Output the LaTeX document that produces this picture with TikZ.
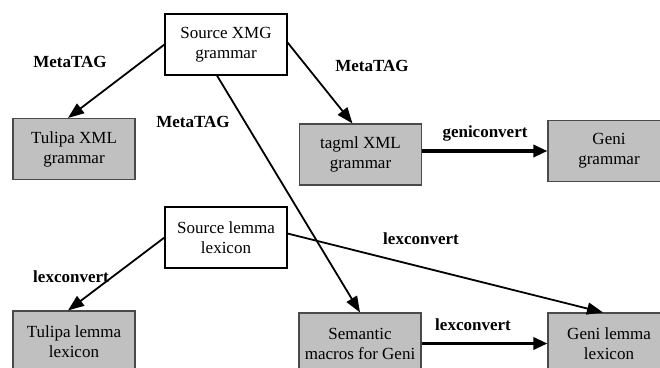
\documentclass[tikz,border=0pt]{standalone}
\usepackage{fontspec}
\setmainfont{Liberation Serif}
\usetikzlibrary{arrows.meta,calc}
\definecolor{boxgray}{HTML}{C0C0C0}
\definecolor{edgegray}{HTML}{4A4A4A}
\begin{document}
\begin{tikzpicture}[x=1pt,y=-1pt,
  txt/.style={font=\rmfamily\fontsize{17}{20}\selectfont},
  srcbox/.style={draw=black,line width=1.1pt,fill=white,minimum width=122pt,minimum height=61pt,inner sep=0pt,align=center,txt},
  outbox/.style={draw=edgegray,line width=1.1pt,fill=boxgray,minimum width=122pt,minimum height=61pt,inner sep=0pt,align=center,txt},
  lbl/.style={font=\rmfamily\fontsize{17}{20}\selectfont\bfseries,inner sep=0pt},
  edge/.style={line width=1.8pt,-{Triangle[length=16pt,width=12pt]}},
  thickedge/.style={line width=3.2pt,-{Triangle[length=14pt,width=12pt]}}
]
\useasboundingbox (0,0) rectangle (660,367);
\clip (0,0) rectangle (660,367);
\fill[white] (0,0) rectangle (660,367);

\node[srcbox] (sx) at (226,44.5) {Source XMG\\grammar};
\node[outbox] (tx) at (74,149) {Tulipa XML\\grammar};
\node[outbox] (tg) at (360.5,154.5) {tagml XML\\grammar};
\node[outbox] (gg) at (609,151) {Geni\\grammar};
\node[srcbox] (sl) at (226,237.5) {Source lemma\\lexicon};
\node[outbox] (tl) at (74,341.5) {Tulipa lemma\\lexicon};
\node[outbox] (sm) at (360,343.5) {Semantic\\macros for Geni};
\node[outbox] (gl) at (609,343.5) {Geni lemma\\lexicon};

\draw[edge] (sx.west) -- ($(tx.north)+(-6,0)$);
\draw[edge] ($(sx.east)+(0,-2)$) -- ($(tg.north)+(-8,0)$);
\draw[edge] ($(sx.south)+(-9,0)$) -- (sm.north);
\draw[thickedge] (tg.east |- gg.west) -- (gg.west);
\draw[edge] (sl.west) -- ($(tl.north)+(-6,0)$);
\draw[edge] ($(sl.east)+(0,-4)$) -- ($(gl.north)+(-6,0)$);
\draw[thickedge] (sm.east) -- (gl.west);

\node[lbl] (l1) at (70,62) {MetaTAG};
\node[lbl] (l2) at (193,122) {MetaTAG};
\node[lbl] (l3) at (372,66) {MetaTAG};
\node[lbl] (l4) at (485,133) {geniconvert};
\node[lbl] (l5) at (71,277) {lexconvert};
\node[lbl] (l6) at (421,239) {lexconvert};
\node[lbl] (l7) at (473,325) {lexconvert};
\end{tikzpicture}
\end{document}
